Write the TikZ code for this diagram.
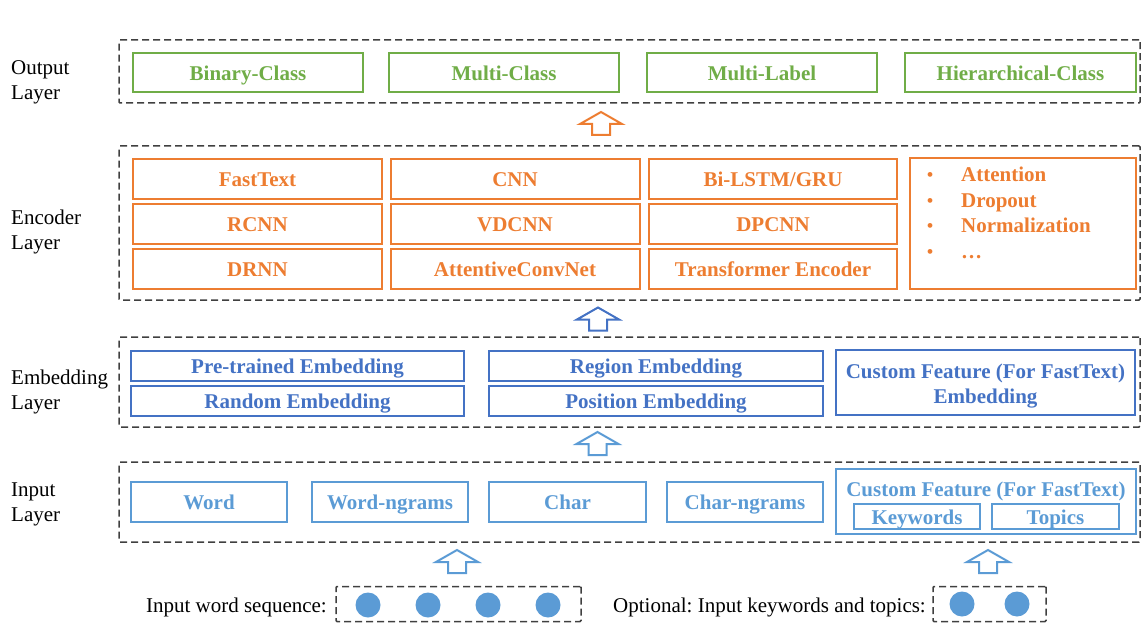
\documentclass[tikz,border=0pt]{standalone}
\usepackage{fontspec}
\setmainfont{Liberation Serif}
\usetikzlibrary{positioning}
\frenchspacing

\definecolor{outgreen}{HTML}{70AD47}
\definecolor{encorange}{HTML}{ED7D31}
\definecolor{embblue}{HTML}{4472C4}
\definecolor{inblue}{HTML}{5B9BD5}
\definecolor{dashgray}{HTML}{404040}

% hollow block arrow pointing up, centred on a named coordinate
\newcommand{\hollowArrow}[2]{\draw[#2, line width=2pt, line join=miter] (#1) ++(-9,11.5) -- ++(0,-11) -- ++(-12,0) -- ++(21,-12) -- ++(21,12) -- ++(-12,0) -- ++(0,11) -- cycle;}

\begin{document}
\begin{tikzpicture}[x=1pt, y=-1pt,
		every node/.style={font=\fontsize{21}{25}\selectfont, inner sep=0pt, text height=16pt, text depth=0.5pt},
		layerbox/.style={draw=dashgray, line width=1.5pt, dash pattern=on 7pt off 4pt, rounded corners=1pt},
		lbl/.style={anchor=west, align=left},
		outbox/.style={draw=outgreen, text=outgreen, line width=2pt, font=\fontsize{21}{25}\selectfont\bfseries, minimum height=39},
		encbox/.style={draw=encorange, text=encorange, line width=2pt, font=\fontsize{21}{25}\selectfont\bfseries, minimum width=249, minimum height=40},
		embbox/.style={draw=embblue, text=embblue, line width=2pt, font=\fontsize{21}{25}\selectfont\bfseries, minimum height=30},
		inbox/.style={draw=inblue, text=inblue, line width=2pt, font=\fontsize{21}{25}\selectfont\bfseries},
		dot/.style={circle, fill=inblue, minimum size=25}]
		\useasboundingbox (0,0) rectangle (1143,623);
		
		% layers
		\node[layerbox, minimum width=1021, minimum height=63] (outL) at (629.5,71.5) {};
		\node[layerbox, minimum width=1021, minimum height=154] (encL) at (629.5,223) {};
		\node[layerbox, minimum width=1021, minimum height=90] (embL) at (629.5,382) {};
		\node[layerbox, minimum width=1021, minimum height=80] (inL) at (629.5,502) {};
		
		\node[lbl] (outT) at (11,91.5) {Output\\Layer};
		\node[lbl] (encT) at (11,241.5) {Encoder\\Layer};
		\node[lbl] (embT) at (11,401.5) {Embedding\\Layer};
		\node[lbl] (inT) at (11,513.5) {Input\\Layer};
		
		% output layer
		\node[outbox, minimum width=230] (binary) at (248,72.5) {Binary-Class};
		\node[outbox, minimum width=230] (multiC) at (504,72.5) {Multi-Class};
		\node[outbox, minimum width=230] (multiL) at (762,72.5) {Multi-Label};
		\node[outbox, minimum width=231] (hier) at (1020.5,72.5) {Hierarchical-Class};
		
		% encoder layer
		\node[encbox] (fasttext) at (257.5,178.5) {FastText};
		\node[encbox] (rcnn) at (257.5,223.5) {RCNN};
		\node[encbox] (drnn) at (257.5,268.5) {DRNN};
		\node[encbox] (cnn) at (515,178.5) {CNN};
		\node[encbox] (vdcnn) at (515,223.5) {VDCNN};
		\node[encbox] (acnet) at (515,268.5) {AttentiveConvNet};
		\node[encbox, minimum width=248] (bilstm) at (773,178.5) {Bi-LSTM/GRU};
		\node[encbox, minimum width=248] (dpcnn) at (773,223.5) {DPCNN};
		\node[encbox, minimum width=248] (trans) at (773,268.5) {Transformer Encoder};
		\node[encbox, minimum width=226, minimum height=131] (extra) at (1023,223.5) {};
		\foreach \t/\y [count=\i] in {Attention/174, Dropout/199.5, Normalization/225, \dots/251}{
			\node[text=encorange, font=\fontsize{20}{25}\selectfont] (bul\i) at (930,\y) {•};
			\node[text=encorange, font=\fontsize{21}{25}\selectfont\bfseries, anchor=west] (ext\i) at (961,\y) {\t};
		}
		
		% embedding layer
		\node[embbox, minimum width=333] (pretrain) at (297.5,366) {Pre-trained Embedding};
		\node[embbox, minimum width=333] (random) at (297.5,401) {Random Embedding};
		\node[embbox, minimum width=334] (region) at (656,366) {Region Embedding};
		\node[embbox, minimum width=334] (position) at (656,401) {Position Embedding};
		\node[embbox, minimum width=299, minimum height=65, align=center, text height=41pt, text depth=0pt] (custE) at (985.5,382.5) {Custom Feature (For FastText)\\Embedding};
		
		% input layer
		\node[inbox, minimum width=156, minimum height=40] (word) at (209,502) {Word};
		\node[inbox, minimum width=156, minimum height=40] (wordng) at (390,502) {Word-ngrams};
		\node[inbox, minimum width=157, minimum height=40] (char) at (567.5,502) {Char};
		\node[inbox, minimum width=156, minimum height=40] (charng) at (745,502) {Char-ngrams};
		\node[inbox, minimum width=300, minimum height=65] (custI) at (986,501.5) {};
		\node[text=inblue, font=\fontsize{21}{25}\selectfont\bfseries] (custT) at (986,488.5) {Custom Feature (For FastText)};
		\node[inbox, minimum width=126, minimum height=25] (keyw) at (917,516.5) {Keywords};
		\node[inbox, minimum width=127, minimum height=25] (topic) at (1055.5,516.5) {Topics};
		
		% inputs
		\node[anchor=east] (seqT) at (327,604.5) {Input word sequence:};
		\node[layerbox, minimum width=245, minimum height=35] (seqB) at (458.5,604) {};
		\foreach \x [count=\i] in {368,428,488,548}
			\node[dot] (w\i) at (\x,605) {};
		\node[anchor=east] (optT) at (926,604.5) {Optional: Input keywords and topics:};
		\node[layerbox, minimum width=113, minimum height=35] (optB) at (989.5,604) {};
		\foreach \x [count=\i] in {962,1017}
			\node[dot] (k\i) at (\x,604) {};
		
		% arrows between layers
		\coordinate (a1) at (601,123.5);
		\coordinate (a2) at (598,319);
		\coordinate (a3) at (597.5,443.5);
		\coordinate (a4) at (457,561.5);
		\coordinate (a5) at (988,561.5);
		\hollowArrow{a1}{encorange}
		\hollowArrow{a2}{embblue}
		\hollowArrow{a3}{inblue}
		\hollowArrow{a4}{inblue}
		\hollowArrow{a5}{inblue}
\end{tikzpicture}
\end{document}
